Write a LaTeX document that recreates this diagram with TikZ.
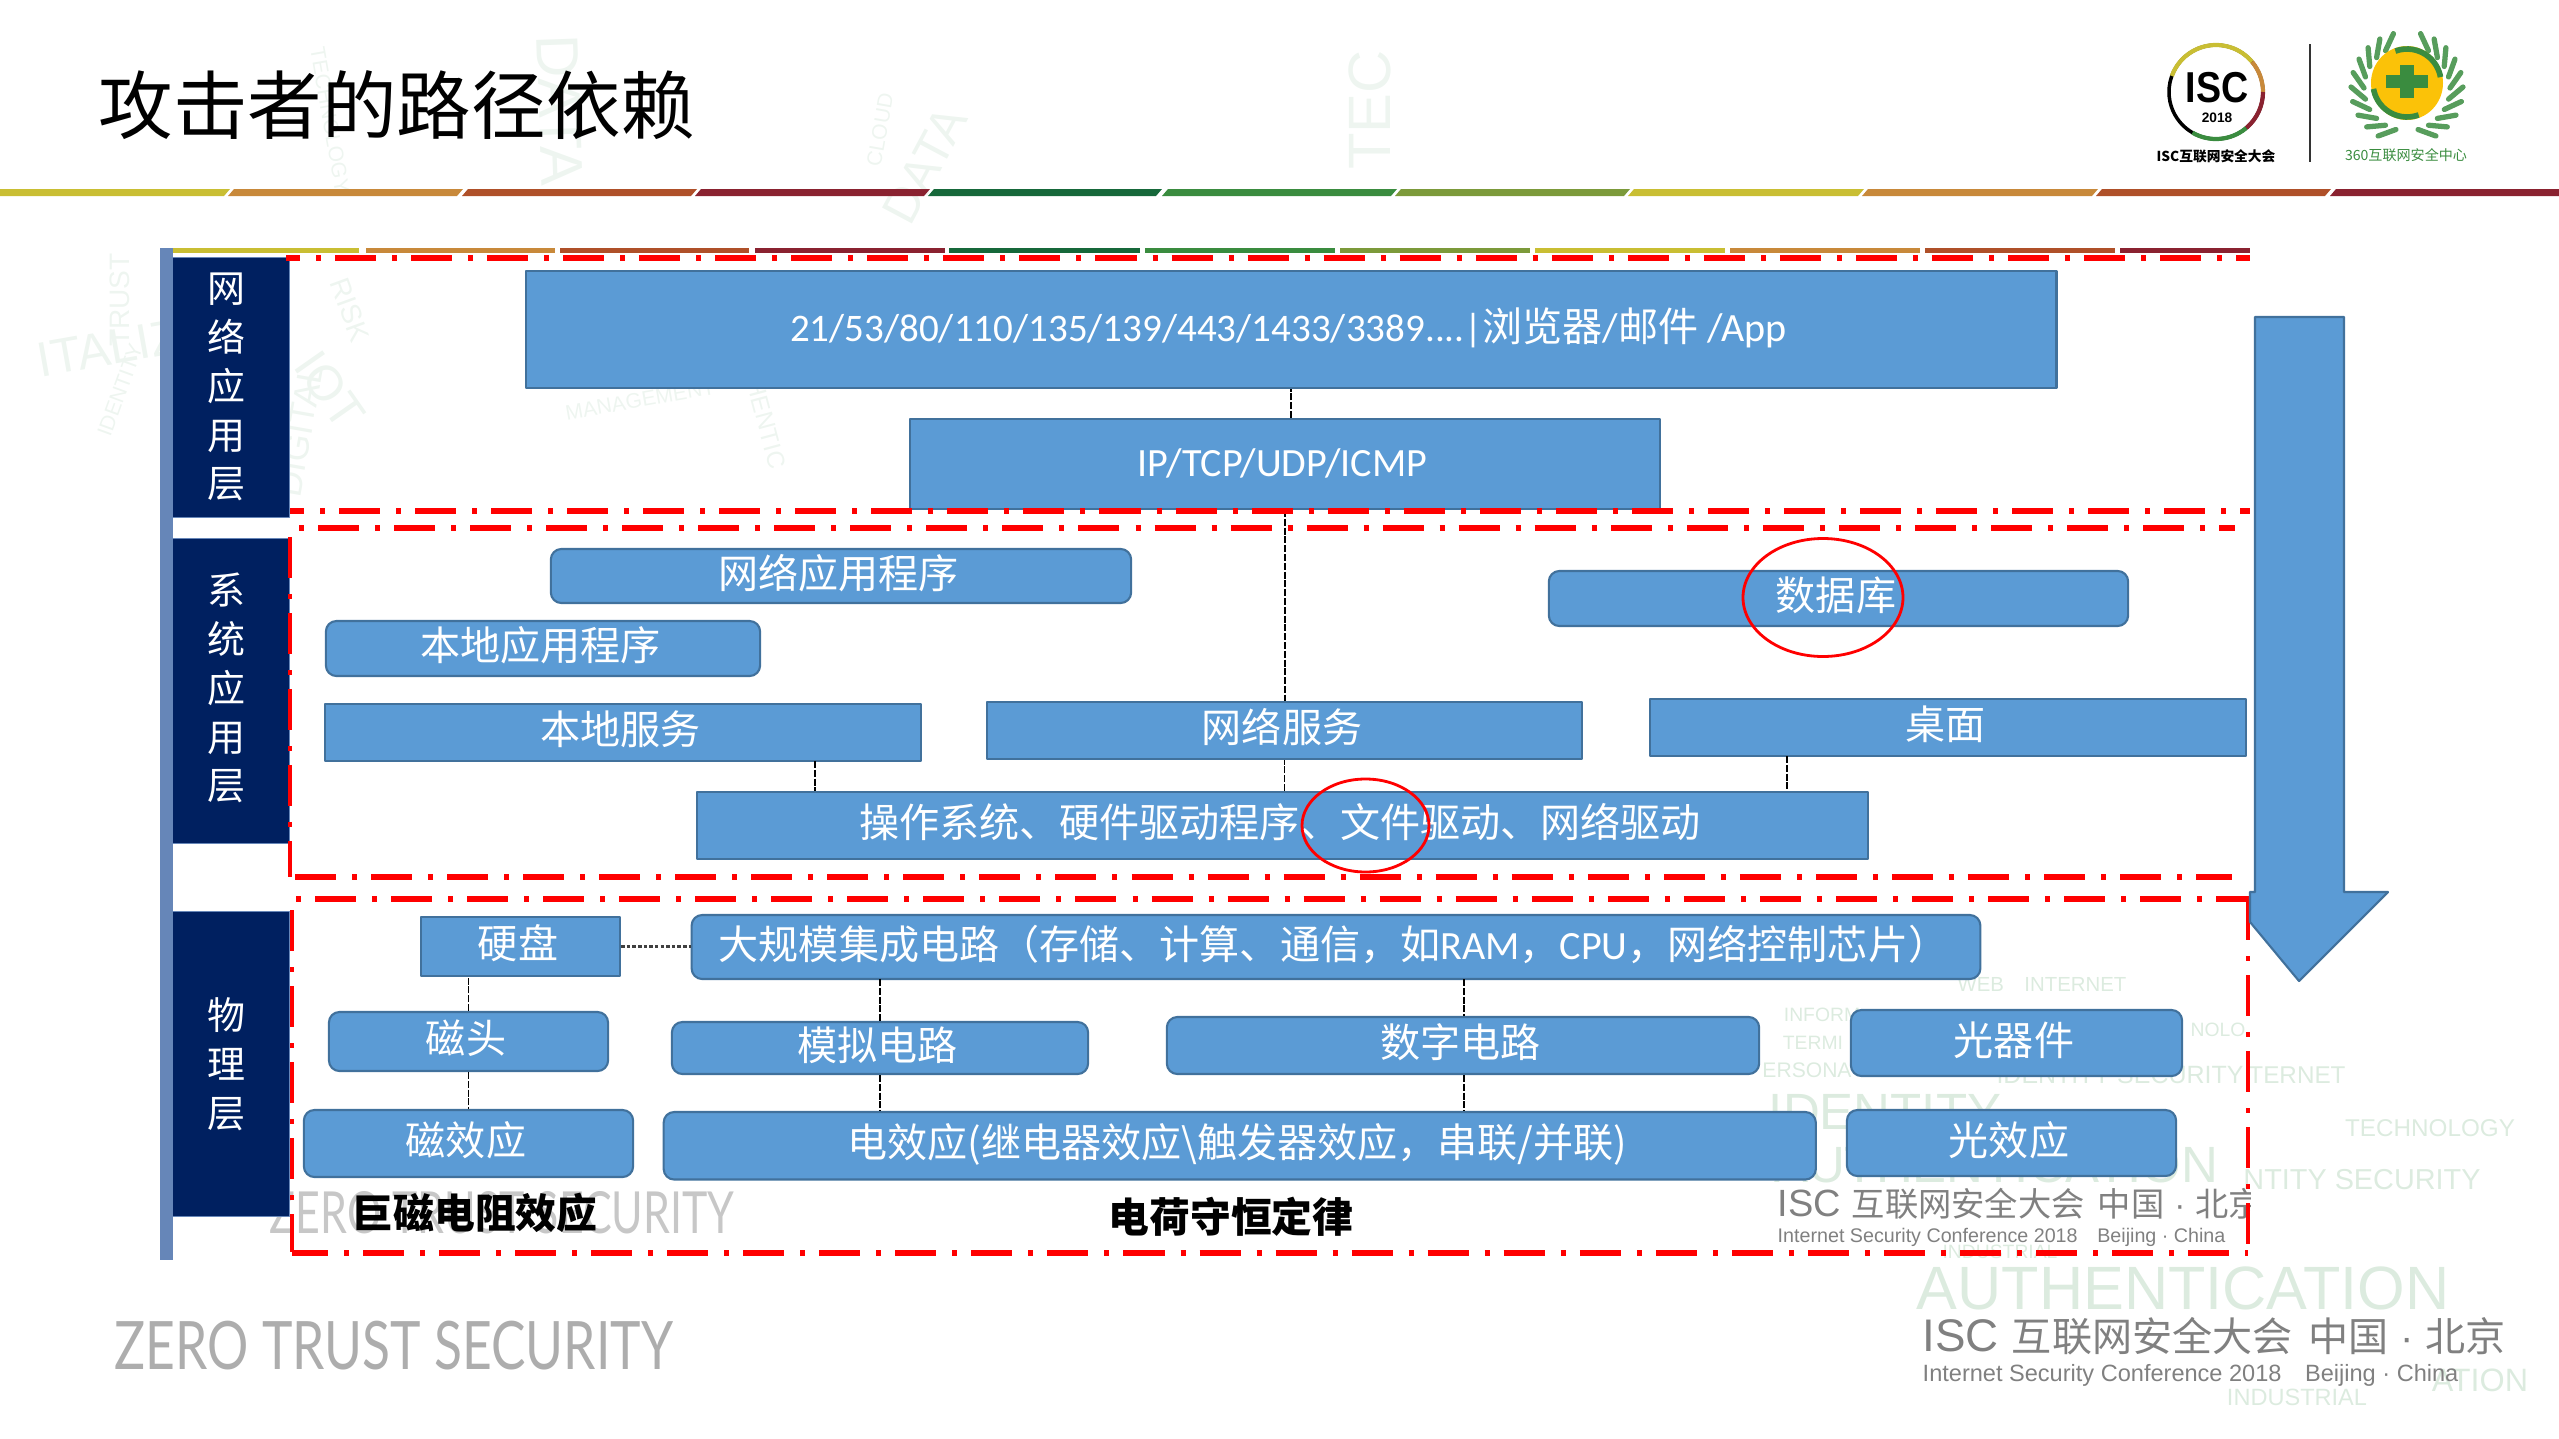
\documentclass[tikz,border=0pt]{standalone}
\usepackage{fontspec}
\setmainfont{Noto Sans CJK SC}
\newfontfamily\lat{Carlito}
\newfontfamily\arial{Liberation Sans}
\newfontfamily\slim{Lato}
\definecolor{boxblue}{HTML}{5B9BD5}
\definecolor{boxline}{HTML}{41719C}
\definecolor{navy}{HTML}{002060}
\definecolor{sidebar}{HTML}{6686B8}
\definecolor{wmgreen}{HTML}{DCEBDF}
\definecolor{wmpale}{HTML}{EEF5F0}
\definecolor{segyellow}{HTML}{C9BE33}
\definecolor{segorange}{HTML}{C8893A}
\definecolor{segbrown}{HTML}{AF5029}
\definecolor{segred}{HTML}{8A2230}
\definecolor{segdark}{HTML}{16683A}
\definecolor{seggreen}{HTML}{3A8C3F}
\definecolor{segolive}{HTML}{7C9A3A}
\newcommand{\iscline}{{\arial\fontsize{13}{13}\selectfont ISC}\hspace{.13cm}互联网安全大会\hspace{.16cm}中国\makebox[.37cm]{\arial ·}北京}
\tikzset{
	flatbox/.style={draw=boxline,fill=boxblue,text=white,line width=.6pt,inner sep=0pt,text height=10pt,text depth=3.1pt,font=\fontsize{11.4}{13}\selectfont,execute at begin node={\kern-.05cm}},
	roundbox/.style={flatbox,rounded corners=3pt},
	layerbox/.style={fill=navy,draw=sidebar,line width=.3pt,inner sep=0pt,minimum width=1.16cm},
	layertext/.style={text=white,align=center,inner sep=0pt,font=\fontsize{10.8}{13.9}\selectfont},
	redline/.style={draw=red,line width=1.7pt,dash pattern=on .41cm off .16cm on .05cm off .14cm},
	redside/.style={redline,line width=1.1pt},
	link/.style={draw=black,line width=.4pt,dash pattern=on 2pt off .5pt},
	mark ring/.style={draw=red,line width=.8pt},
	lawtext/.style={inner sep=0pt,font=\bfseries\fontsize{11.6}{13}\selectfont},
	wmword/.style={inner sep=0pt,anchor=center},
}
\begin{document}
\begin{tikzpicture}[x=.01cm,y=-.01cm,line join=round]
	\useasboundingbox (0,0) rectangle (2559,1439);
	\foreach \px/\py/\ang/\sz/\word [count=\k] in {
		560/110/-88/17/DATA,1370/110/90/17/TEC,330/390/-55/14/IOT,925/165/62/14/DATA,
		120/300/90/8/TRUST,350/310/-70/8/RISK,330/120/-80/6/TECHNOLOGY,880/130/80/6/CLOUD,
		125/345/10/14/ITALIZE,120/390/70/6/IDENTITY,300/430/80/10/DIGITAL,640/400/10/6/MANAGEMENT,
		760/400/-75/7/AUTHENTIC}{
		\node[wmword,text=wmpale,rotate=\ang,font=\arial\fontsize{\sz}{\sz}\selectfont] (wmp\k) at (\px,\py) {\word};
	}
	\foreach \px/\py/\sz/\word [count=\k] in {
		2042/984/5.8/{WEB\quad INTERNET},1822/1015/5.5/INFORM,1813/1043/5.5/TERMI,
		1807/1070/6/ERSONA,2218/1030/5.5/NOLO,2120/1075/7.1/{IDENTITY SECURITY},2297/1075/6.9/TERNET,
		2430/1128/6.9/TECHNOLOGY,2362/1180/8.2/{NTITY SECURITY},1885/1112/14.5/IDENTITY,
		1996/1165/14.5/AUTHENTICATION,2183/1288/17.4/AUTHENTICATION,2297/1397/6.7/INDUSTRIAL,
		2480/1380/9.2/ATION,2000/1252/5.5/INDUSTRIAL}{
		\node[wmword,text=wmgreen,font=\arial\fontsize{\sz}{\sz}\selectfont] (wmg\k) at (\px,\py) {\word};
	}
	\node[anchor=west,inner sep=0pt,font=\fontsize{21.2}{24}\selectfont] (title) at (98,105) {攻击者的路径依赖};
	\foreach \a/\b/\c in {-5/227/segyellow,231/460/segorange,465/694/segbrown,698/927/segred,931/1159/segdark,1165/1394/seggreen,1398/1627/segolive,1631/1861/segyellow,1865/2095/segorange,2099/2328/segbrown,2333/2565/segred}{
		\fill[\c] ({\a+3},189)--({\b+3},189)--({\b-3},196)--({\a-3},196)--cycle;
	}
	\foreach \a/\b/\c in {171/359/segyellow,366/555/segorange,560/749/segbrown,755/945/segred,949/1140/segdark,1145/1335/seggreen,1340/1530/segolive,1535/1725/segyellow,1730/1920/segorange,1925/2115/segbrown,2120/2250/segred}{
		\fill[\c] (\a,248) rectangle (\b,253);
	}
	\node[anchor=west,text=black!32,inner sep=0pt,font=\slim\fontsize{19}{20}\selectfont] (zero) at (114,1346) {\scalebox{.772}[1]{ZERO TRUST SECURITY}};
	\node[anchor=west,text=black!22,inner sep=0pt,font=\slim\fontsize{16.5}{18}\selectfont] (zeroin) at (269,1213) {\scalebox{.74}[1]{ZERO TRUST SECURITY}};
	\node[anchor=west,text=black!50,inner sep=0pt,font=\fontsize{11.4}{13}\selectfont] (isc) at (1922,1336) {\iscline};
	\node[anchor=west,text=black!50,inner sep=0pt,font=\arial\fontsize{6.7}{8}\selectfont] (iscen) at (1922,1375) {Internet Security Conference 2018\quad Beijing · China};
	\begin{scope}
		\clip (1700,1180) rectangle (2250,1250);
		\node[anchor=west,text=black!50,inner sep=0pt,font=\fontsize{11.4}{13}\selectfont] (iscin) at (1777,1204) {\scalebox{.83}{\iscline}};
		\node[anchor=west,text=black!50,inner sep=0pt,font=\arial\fontsize{5.6}{7}\selectfont] (iscinen) at (1777,1237) {Internet Security Conference 2018\quad Beijing · China};
	\end{scope}
	\fill[sidebar] (160,248) rectangle (173,1260);
	\node[layerbox,minimum height=2.59cm] (netlayer) at (231,387.5) {};
	\node[layerbox,minimum height=3.04cm] (syslayer) at (231,691) {};
	\node[layerbox,minimum height=3.04cm] (phylayer) at (231,1064) {};
	\node[layertext] (nettext) at (226,387) {网\\络\\应\\用\\层};
	\node[layertext] (systext) at (226,688) {系\\统\\应\\用\\层};
	\node[layertext] (phytext) at (226,1064) {物\\理\\层};
	\node[flatbox,minimum width=15.3cm,minimum height=1.17cm] (ports) at (1291,329.5) {{\lat\fontsize{11.1}{13}\selectfont 21/53/80/110/135/139/443/1433/3389....|}浏览器{\lat /}邮件{\lat\ /App}};
	\node[flatbox,minimum width=7.5cm,minimum height=.9cm] (ip) at (1285,464) {\lat IP/TCP/UDP/ICMP};
	\node[roundbox,minimum width=5.8cm,minimum height=.54cm] (netapp) at (841,576) {网络应用程序};
	\node[roundbox,minimum width=4.34cm,minimum height=.55cm] (localapp) at (543,648.5) {本地应用程序};
	\node[roundbox,minimum width=5.79cm,minimum height=.55cm] (database) at (1838.5,598.5) {数据库};
	\node[flatbox,minimum width=5.95cm,minimum height=.57cm] (localsvc) at (623,732.5) {本地服务};
	\node[flatbox,minimum width=5.95cm,minimum height=.57cm] (netsvc) at (1284.5,730.5) {网络服务};
	\node[flatbox,minimum width=5.95cm,minimum height=.57cm] (desktop) at (1948,727.5) {桌面};
	\node[flatbox,minimum width=11.71cm,minimum height=.67cm] (os) at (1282.5,825.5) {操作系统、硬件驱动程序、文件驱动、网络驱动};
	\node[flatbox,minimum width=1.99cm,minimum height=.59cm] (disk) at (520.5,946.5) {硬盘};
	\node[roundbox,minimum width=12.88cm,minimum height=.64cm] (lsi) at (1336,947) {大规模集成电路（存储、计算、通信，如{\lat RAM}，{\lat CPU}，网络控制芯片）};
	\node[roundbox,minimum width=2.79cm,minimum height=.59cm] (head) at (468.5,1041.5) {磁头};
	\node[roundbox,minimum width=4.16cm,minimum height=.52cm] (analog) at (880,1048) {模拟电路};
	\node[roundbox,minimum width=5.92cm,minimum height=.57cm] (digital) at (1463,1045.5) {数字电路};
	\node[roundbox,minimum width=3.31cm,minimum height=.66cm] (optdev) at (2016.5,1043) {光器件};
	\node[roundbox,minimum width=3.29cm,minimum height=.67cm] (magfx) at (468.5,1143.5) {磁效应};
	\node[roundbox,minimum width=11.515cm,minimum height=.675cm] (elecfx) at (1239.75,1145.75) {电效应(继电器效应\textbackslash 触发器效应，串联/并联)};
	\node[roundbox,minimum width=3.29cm,minimum height=.66cm] (optfx) at (2011.5,1143) {光效应};
	\draw[link] (ip.north-|ports.south)--(ports.south);
	\draw[link] (ip.south)--(netsvc.north-|ip.south);
	\draw[link] (os.north-|netsvc.south)--(netsvc.south);
	\coordinate (svcdrop) at (815,761);
	\coordinate (deskdrop) at (1787,756);
	\draw[link] (svcdrop)--(os.north-|svcdrop);
	\draw[link] (deskdrop)--(os.north-|deskdrop);
	\draw[draw=black!75,line width=.9pt,dash pattern=on 1pt off .6pt] (disk.east)--(lsi.west|-disk.east);
	\draw[link] (head.north)--(disk.south-|head.north);
	\draw[link] (head.south)--(magfx.north);
	\coordinate (analogtop) at (880,979);
	\coordinate (digitaltop) at (1464,979);
	\draw[link] (analogtop)--(analog.north);
	\draw[link] (analog.south)--(elecfx.north-|analog.south);
	\draw[link] (digitaltop)--(digital.north-|digitaltop);
	\draw[link] (digital.south-|digitaltop)--(elecfx.north-|digitaltop);
	\draw[redline,dash phase=.27cm] (286,258)--(2250,258);
	\draw[redline,dash phase=.27cm] (290,511)--(2250,511);
	\draw[redline,dash phase=.56cm] (298,528)--(2235,528);
	\draw[redline] (295,877)--(2232,877);
	\draw[redline,dash phase=.57cm] (296,899)--(2250,899);
	\draw[redline,dash phase=.05cm] (292,1252.5)--(2248,1252.5);
	\draw[redside] (290,537)--(290,877);
	\draw[redside] (292,910)--(292,1252);
	\draw[redside] (2248,899)--(2248,1252);
	\draw[mark ring] (1823,597.5) circle [x radius=80,y radius=59];
	\draw[mark ring] (1365.5,825.5) circle [x radius=63.5,y radius=46.5];
	\node[lawtext] (giant) at (475,1213) {巨磁电阻效应};
	\node[lawtext] (charge) at (1231,1217) {电荷守恒定律};
	\fill[boxblue,draw=boxline,line width=.6pt] (2255,317)--(2344,317)--(2344,892)--(2388,892)--(2299,981)--(2250,922)--(2250,892)--(2255,892)--cycle;
	% logos
	\draw[black,line width=1pt] (2216,92) circle (47);
	\draw[segyellow,line width=1.2pt] (2216,92) ++(200:47) arc[start angle=200,end angle=320,radius=47];
	\draw[segorange,line width=1.2pt] (2216,92) ++(320:47) arc[start angle=320,end angle=360,radius=47];
	\draw[segred,line width=1.2pt] (2216,92) ++(0:47) arc[start angle=0,end angle=50,radius=47];
	\draw[seggreen,line width=1.2pt] (2216,92) ++(50:47) arc[start angle=50,end angle=120,radius=47];
	\node[inner sep=0pt,font=\arial\bfseries\fontsize{12.3}{13}\selectfont] (isclogo) at (2217,88) {\scalebox{.87}[1]{ISC}};
	\node[inner sep=0pt,font=\arial\bfseries\fontsize{3.9}{5}\selectfont] (iscyear) at (2217,118) {2018};
	\node[inner sep=0pt,font=\bfseries\fontsize{3.9}{5}\selectfont] (iscname) at (2216,156) {ISC互联网安全大会};
	\coordinate (sepup) at (2310,44);
	\coordinate (sepdown) at (2310,162);
	\draw[black!80,line width=.6pt] (sepup)--(sepdown);
	\foreach \a in {-60,-45,...,75}{
		\draw[seggreen!85,line width=1.5pt,line cap=round] ([shift={(\a:43)}]2407,88)--([shift={({\a-16}:56)}]2407,88);
	}
	\foreach \a in {105,120,...,240}{
		\draw[seggreen!85,line width=1.5pt,line cap=round] ([shift={(\a:43)}]2407,88)--([shift={({\a+16}:56)}]2407,88);
	}
	\fill[yellow!55!orange] (2407,83) circle [x radius=36,y radius=37];
	\draw[seggreen,line width=1.6pt] (2407,83) ++(250:34) arc[start angle=250,end angle=350,radius=34];
	\draw[seggreen,line width=1.6pt] (2407,83) ++(70:34) arc[start angle=70,end angle=170,radius=34];
	\fill[seggreen] (2400,65) rectangle (2414,98);
	\fill[seggreen] (2386,75) rectangle (2428,88);
	\node[text=seggreen,inner sep=0pt,font=\fontsize{4}{5}\selectfont] (safename) at (2406,155) {360互联网安全中心};
\end{tikzpicture}
\end{document}
